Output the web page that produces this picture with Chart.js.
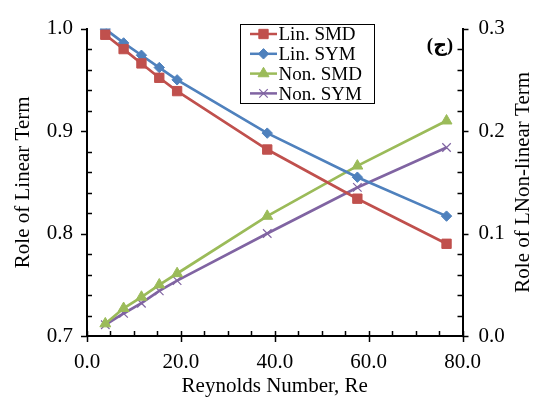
<!DOCTYPE html>
<html><head><meta charset="utf-8">
<script src="https://cdn.jsdelivr.net/npm/chart.js@4/dist/chart.umd.min.js"></script>
<style>html,body{margin:0;padding:0;background:#fff;} #wrap{width:535px;height:402px;}</style>
</head><body><div id="wrap"><canvas id="c" width="535" height="402"></canvas></div>
<script>
const reynolds = [3.9, 7.8, 11.6, 15.4, 19.2, 38.4, 57.6, 76.6];
const linSMD = [0.994, 0.980, 0.966, 0.952, 0.939, 0.882, 0.834, 0.790];
const linSYM = [0.9995, 0.986, 0.974, 0.962, 0.950, 0.898, 0.855, 0.817];
const nonSMD = [0.012, 0.027, 0.038, 0.050, 0.061, 0.117, 0.166, 0.210];
const nonSYM = [0.011, 0.022, 0.032, 0.044, 0.054, 0.100, 0.145, 0.184];
const seriesNames = ['Lin. SMD', 'Lin. SYM', 'Non. SMD', 'Non. SYM'];
const xTicks = [0, 20, 40, 60, 80];
const yLeftTicks = [0.7, 0.8, 0.9, 1.0];
const yRightTicks = [0.0, 0.1, 0.2, 0.3];
const xTitle = 'Reynolds Number, Re';
const yLeftTitle = 'Role of Linear Term';
const yRightTitle = 'Role of LNon-linear Term';
const panelLabel = '(ج)';

const FONT = "'Liberation Serif', 'Times New Roman', serif";
const pts = arr => reynolds.map((x, i) => ({x: x, y: arr[i]}));

const styles = [
  {color: '#C0504D', pointStyle: 'rect', radius: 6.6, axis: 'y', data: linSMD, bw: 1},
  {color: '#4F81BD', pointStyle: 'rectRot', radius: 5.2, axis: 'y', data: linSYM, bw: 1},
  {color: '#9BBB59', pointStyle: 'triangle', radius: 6.3, axis: 'y2', data: nonSMD, bw: 1},
  {color: '#8064A2', pointStyle: 'crossRot', radius: 6, axis: 'y2', data: nonSYM, bw: 1.2}
];

const datasets = styles.map((s, i) => ({
  label: seriesNames[i],
  data: pts(s.data),
  yAxisID: s.axis,
  borderColor: s.color,
  backgroundColor: s.color,
  borderWidth: 2.7,
  pointStyle: s.pointStyle,
  pointRadius: s.radius,
  pointBorderWidth: s.bw,
  pointBackgroundColor: s.color,
  pointBorderColor: s.color,
  tension: 0,
  fill: false
}));

function drawMarker(ctx, ds, x, y) {
  ctx.save();
  ctx.fillStyle = ds.pointBackgroundColor;
  ctx.strokeStyle = ds.pointBorderColor;
  ctx.lineWidth = ds.pointBorderWidth;
  if (Chart.helpers && Chart.helpers.drawPoint) {
    Chart.helpers.drawPoint(ctx, {pointStyle: ds.pointStyle, radius: ds.pointRadius, rotation: 0, borderWidth: ds.pointBorderWidth}, x, y);
  }
  ctx.restore();
}

const custom = {
  id: 'custom',
  afterDraw(chart) {
    const ctx = chart.ctx;
    const sx = chart.scales.x, sy = chart.scales.y, sy2 = chart.scales.y2;
    const a = chart.chartArea;
    ctx.save();
    ctx.strokeStyle = '#000';
    ctx.lineWidth = 1.5;
    // x ticks
    for (let v = 0; v <= 80.001; v += 5) {
      const px = Math.round(sx.getPixelForValue(v)) + 0.5;
      const major = Math.abs(v % 20) < 1e-6;
      ctx.beginPath();
      ctx.moveTo(px, a.bottom + (major ? 6 : 0));
      ctx.lineTo(px, a.bottom - 5);
      ctx.stroke();
    }
    // left y ticks
    for (let k = 0; k <= 15; k++) {
      const v = 0.7 + k * 0.02;
      const py = Math.round(sy.getPixelForValue(v)) + 0.5;
      const major = k % 5 === 0;
      ctx.beginPath();
      ctx.moveTo(a.left - (major ? 6 : 0), py);
      ctx.lineTo(a.left + (major ? 0 : 5), py);
      ctx.stroke();
    }
    // right y ticks
    for (let k = 0; k <= 15; k++) {
      const v = k * 0.02;
      const py = Math.round(sy2.getPixelForValue(v)) + 0.5;
      const major = k % 5 === 0;
      ctx.beginPath();
      ctx.moveTo(a.right + (major ? 6 : 0), py);
      ctx.lineTo(a.right - (major ? 0 : 5), py);
      ctx.stroke();
    }
    // right axis title (reads bottom to top)
    ctx.fillStyle = '#000';
    ctx.font = "21px " + FONT;
    ctx.textAlign = 'center';
    ctx.textBaseline = 'middle';
    ctx.save();
    ctx.translate(523, (a.top + a.bottom) / 2);
    ctx.rotate(-Math.PI / 2);
    ctx.fillText(yRightTitle, 0, 0);
    ctx.restore();
    // panel label
    ctx.font = "bold 19px " + FONT + ", 'DejaVu Sans'";
    ctx.fillText(panelLabel, 440, 46);
    // legend
    const bx = 240, by = 24, bw = 134, bh = 79;
    ctx.fillStyle = '#fff';
    ctx.fillRect(bx, by, bw, bh);
    ctx.strokeStyle = '#000';
    ctx.lineWidth = 1;
    ctx.strokeRect(bx + 0.5, by + 0.5, bw, bh);
    ctx.font = "19px " + FONT;
    ctx.textAlign = 'left';
    ctx.textBaseline = 'alphabetic';
    chart.data.datasets.forEach((ds, i) => {
      const cy = 34 + i * 19.8;
      ctx.strokeStyle = ds.borderColor;
      ctx.lineWidth = 2.5;
      ctx.beginPath();
      ctx.moveTo(250, cy);
      ctx.lineTo(277, cy);
      ctx.stroke();
      drawMarker(ctx, ds, 263.5, cy);
      ctx.fillStyle = '#000';
      ctx.fillText(ds.label, 278.5, cy + 6.3);
    });
    ctx.restore();
  }
};

const tickFont = {family: FONT, size: 21};
const titleFont = {family: FONT, size: 21};

new Chart(document.getElementById('c'), {
  type: 'line',
  data: {datasets: datasets},
  options: {
    responsive: false,
    animation: false,
    devicePixelRatio: 1,
    layout: {padding: {top: 23.5, left: 0, right: 0, bottom: 0}},
    plugins: {legend: {display: false}, tooltip: {enabled: false}},
    scales: {
      x: {
        type: 'linear', position: 'bottom', min: 0, max: 80,
        afterBuildTicks: s => { s.ticks = xTicks.map(v => ({value: v})); },
        afterFit: s => { s.height = 66; },
        ticks: {callback: v => Number(v).toFixed(1), font: tickFont, color: '#000', padding: 14, maxRotation: 0, autoSkip: false},
        grid: {display: false, drawTicks: false},
        border: {display: true, color: '#000', width: 2},
        title: {display: true, text: xTitle, font: titleFont, color: '#000', padding: {top: 0, bottom: 3}}
      },
      y: {
        type: 'linear', position: 'left', min: 0.7, max: 1.0,
        afterBuildTicks: s => { s.ticks = yLeftTicks.map(v => ({value: v})); },
        afterFit: s => { s.width = 87; },
        ticks: {callback: v => Number(v).toFixed(1), font: tickFont, color: '#000', padding: 14},
        grid: {display: false, drawTicks: false},
        border: {display: true, color: '#000', width: 2},
        title: {display: true, text: yLeftTitle, font: titleFont, color: '#000', padding: {top: 11, bottom: 0}}
      },
      y2: {
        type: 'linear', position: 'right', min: 0, max: 0.3,
        afterBuildTicks: s => { s.ticks = yRightTicks.map(v => ({value: v})); },
        afterFit: s => { s.width = 72.5; },
        ticks: {callback: v => Number(v).toFixed(1), font: tickFont, color: '#000', padding: 16},
        grid: {display: false, drawTicks: false},
        border: {display: true, color: '#000', width: 2}
      }
    }
  },
  plugins: [custom]
});
</script>
</body></html>
